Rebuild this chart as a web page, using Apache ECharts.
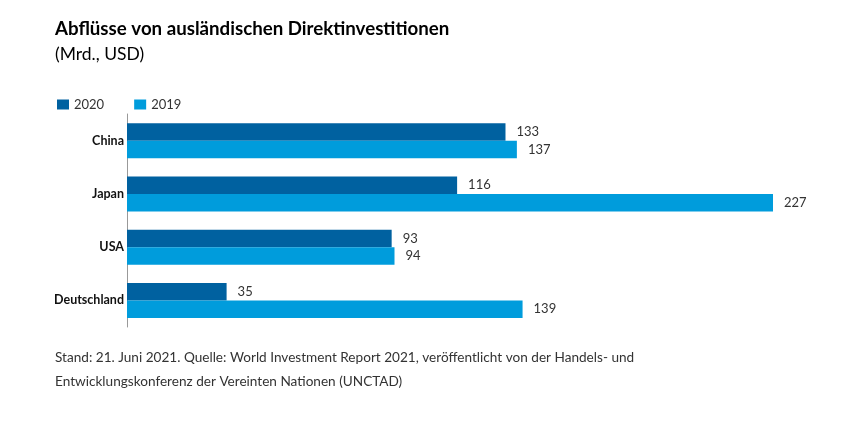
<!DOCTYPE html>
<html><head><meta charset="utf-8">
<script src="https://cdn.jsdelivr.net/npm/echarts@6/dist/echarts.min.js"></script>
<style>html,body{margin:0;padding:0;background:#fff}#c{width:861px;height:424px}</style>
</head><body><div id="c"></div>
<script>
const categories = ['China', 'Japan', 'USA', 'Deutschland'];
const values2020 = [133, 116, 93, 35];
const values2019 = [137, 227, 94, 139];
const seriesNames = ['2020', '2019'];
const titleText = 'Abflüsse von ausländischen Direktinvestitionen';
const subtitleText = '(Mrd., USD)';
const footLines = ['Stand: 21. Juni 2021. Quelle: World Investment Report 2021, veröffentlicht von der Handels- und', 'Entwicklungskonferenz der Vereinten Nationen (UNCTAD)'];

const FONT = 'Lato';
const chart = echarts.init(document.getElementById('c'), null, {renderer: 'canvas'});
const labelStyle = {show: true, position: 'right', distance: 11, color: '#333', fontSize: 13, fontFamily: FONT};
chart.setOption({
  animation: false,
  textStyle: {fontFamily: FONT},
  title: [
    {text: titleText, left: 50, top: 14, textStyle: {fontSize: 18.7, fontWeight: 'bold', color: '#000', fontFamily: FONT}},
    {text: subtitleText, left: 50, top: 40, textStyle: {fontSize: 17.5, fontWeight: 'normal', color: '#000', fontFamily: FONT}},
    {text: footLines.join('\n'), left: 50, top: 341, textStyle: {fontSize: 13.6, fontWeight: 'normal', color: '#333', lineHeight: 24, fontFamily: FONT}}
  ],
  legend: {
    data: seriesNames, left: 52, top: 93, icon: 'rect', itemWidth: 12, itemHeight: 10, itemGap: 30,
    textStyle: {fontSize: 13, color: '#333', fontFamily: FONT}
  },
  grid: {left: 127, right: 88, top: 114, bottom: 97, containLabel: false},
  xAxis: {type: 'value', min: 0, max: 227, show: false},
  yAxis: {
    type: 'category', data: categories, inverse: true,
    axisLine: {show: true, lineStyle: {color: '#999', width: 1}},
    axisTick: {show: false},
    axisLabel: {color: '#111', fontSize: 12.5, fontWeight: 'bold', margin: 3, fontFamily: FONT}
  },
  series: [
    {name: seriesNames[0], type: 'bar', data: values2020, barWidth: 17.5, barGap: '0%', itemStyle: {color: '#0061a0'}, label: labelStyle},
    {name: seriesNames[1], type: 'bar', data: values2019, barWidth: 17.5, barGap: '0%', itemStyle: {color: '#009cdc'}, label: labelStyle}
  ]
});
</script></body></html>
